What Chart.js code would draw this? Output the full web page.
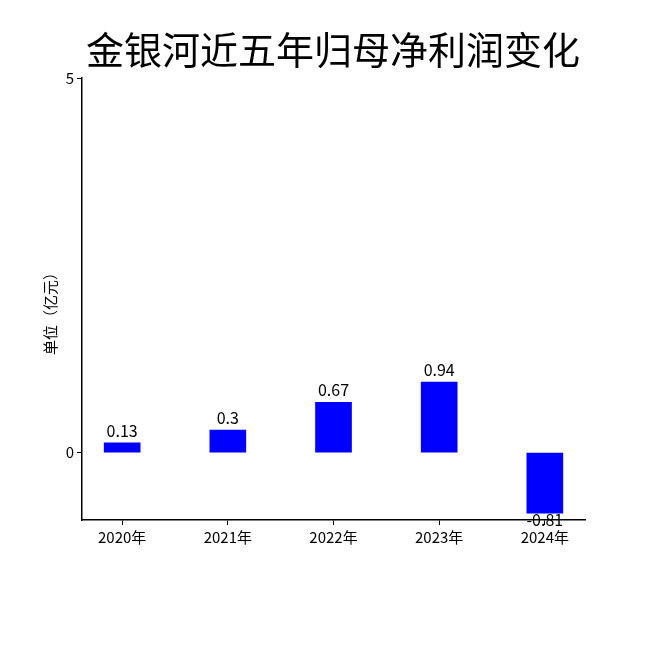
<!DOCTYPE html>
<html><head><meta charset="utf-8">
<script src="https://cdn.jsdelivr.net/npm/chart.js@4/dist/chart.umd.min.js"></script>
<style>html,body{margin:0;padding:0;background:#fff}#w{width:650px;height:650px}</style>
</head><body><div id="w"><canvas id="c"></canvas></div>
<script>
const categories = ["2020年","2021年","2022年","2023年","2024年"];
const values = [0.13, 0.3, 0.67, 0.94, -0.81];
const yTicks = [0, 5];
const titleText = "金银河近五年归母净利润变化";
const yTitle = "单位（亿元）";
const FONT = "'Noto Sans CJK SC','DejaVu Sans',sans-serif";

const overlay = {
  id:'overlay',
  afterDatasetsDraw(chart){
    const ctx = chart.ctx, xs = chart.scales.x, ys = chart.scales.y;
    ctx.save();
    ctx.fillStyle = '#000';
    ctx.font = "38px " + FONT;
    ctx.textAlign = 'center'; ctx.textBaseline = 'middle';
    ctx.fillText(titleText, 333, 50);
    ctx.font = "16px " + FONT;
    values.forEach((v,i)=>{
      const x = xs.getPixelForValue(i);
      if (v >= 0) { ctx.textBaseline='bottom'; ctx.fillText(String(v), x, ys.getPixelForValue(v)-4); }
      else { ctx.textBaseline='top'; ctx.fillText(String(v), x, ys.getPixelForValue(v)-1); }
    });
    ctx.translate(50, 310); ctx.rotate(-Math.PI/2);
    ctx.font = "15px " + FONT; ctx.textBaseline='middle';
    ctx.fillText(yTitle, 0, 0);
    ctx.restore();
  }
};

new Chart(document.getElementById('c'), {
  type:'bar',
  data:{ datasets:[{ data: values.map((v,i)=>({x:i,y:v})), backgroundColor:'#0000ff', barThickness:36 }] },
  options:{
    responsive:true, maintainAspectRatio:false, animation:false,
    layout:{ padding:{ left:0, right:65, top:78, bottom:90 } },
    plugins:{ legend:{display:false}, tooltip:{enabled:false} },
    scales:{
      x:{ type:'linear', min:-0.38, max:4.38, offset:false,
        afterBuildTicks(s){ s.ticks = categories.map((c,i)=>({value:i})); },
        ticks:{ callback:(v)=>categories[v], color:'#000', font:{size:15, family:FONT}, maxRotation:0, autoSkip:false },
        grid:{ drawOnChartArea:false, offset:false, tickLength:5, color:'#000' },
        border:{ color:'#000', width:1.5 },
        afterFit(s){ s.height = 40; } },
      y:{ min:-0.9, max:5,
        afterBuildTicks(s){ s.ticks = yTicks.map(v=>({value:v})); },
        ticks:{ color:'#000', font:{size:15, family:FONT} },
        grid:{ drawOnChartArea:false, tickLength:5, color:'#000' },
        border:{ color:'#000', width:1.5 },
        afterFit(s){ s.width = 82; } }
    }
  },
  plugins:[overlay]
});
</script></body></html>
